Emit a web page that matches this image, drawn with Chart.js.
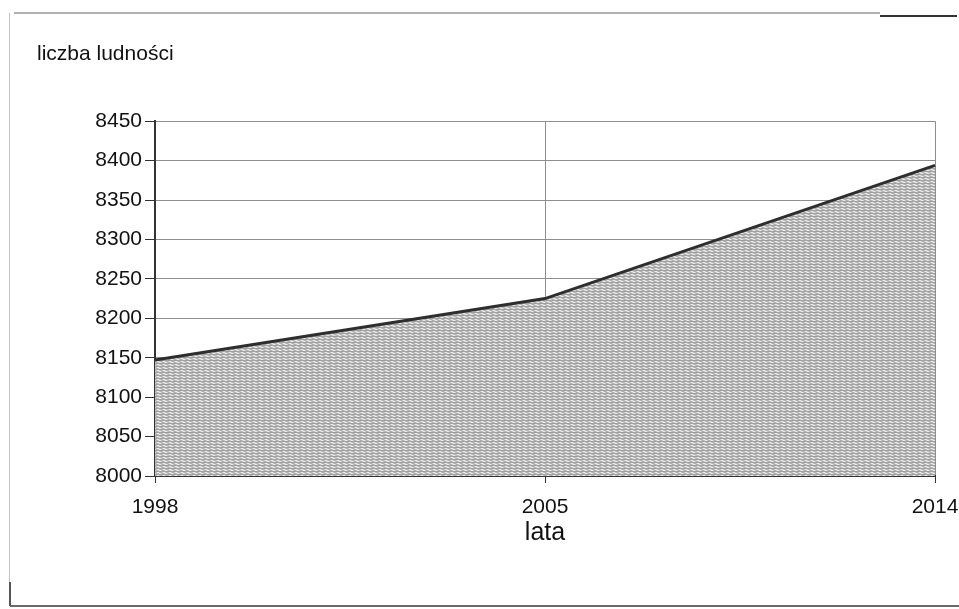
<!DOCTYPE html>
<html>
<head>
<meta charset="utf-8">
<script src="https://cdn.jsdelivr.net/npm/chart.js@4"></script>
<style>
  html, body { margin: 0; padding: 0; background: #fff; }
  #wrap { position: relative; width: 959px; height: 609px; overflow: hidden; }
  #wrap canvas { position: absolute; left: 0; top: 0; }
  .ln { position: absolute; }
</style>
</head>
<body>
<div id="wrap">
  <div class="ln" style="left:14px;top:12px;width:866px;height:2px;background:#b0b0b0"></div>
  <div class="ln" style="left:880px;top:15px;width:77px;height:2px;background:#333"></div>
  <div class="ln" style="left:9px;top:13px;width:1px;height:592px;background:#c4c4c4"></div>
  <div class="ln" style="left:9px;top:582px;width:2px;height:24px;background:#555"></div>
  <div class="ln" style="left:10px;top:605px;width:949px;height:2px;background:#6a6a6a"></div>
  <canvas id="chart" width="959" height="609"></canvas>
</div>
<script>
// Liczba ludności w latach 1998–2014 (wykres powierzchniowy)
const years = ['1998', '2005', '2014'];
const population = [8147, 8225, 8394];
const yMin = 8000, yMax = 8450, yStep = 50;

function texture() {
  const c = document.createElement('canvas');
  c.width = 6; c.height = 3;
  const g = c.getContext('2d');
  const rows = [
    ['#9e9e9e', '#9e9e9e', '#a6a6a6', '#9e9e9e', '#9e9e9e', '#a6a6a6'],
    ['#c6c6c6', '#ececec', '#ececec', '#c6c6c6', '#b2b2b2', '#b2b2b2'],
    ['#b2b2b2', '#b2b2b2', '#c6c6c6', '#ececec', '#ececec', '#c6c6c6']
  ];
  rows.forEach((r, y) => r.forEach((col, x) => { g.fillStyle = col; g.fillRect(x, y, 1, 1); }));
  return g.createPattern(c, 'repeat');
}

const font = 'Liberation Sans, Arial, sans-serif';
const dark = '#333', grid = '#8e8e8e';

new Chart(document.getElementById('chart'), {
  type: 'line',
  data: {
    labels: years,
    datasets: [{
      data: population,
      fill: 'origin',
      backgroundColor: texture(),
      borderColor: '#2e2e2e',
      borderWidth: 3,
      pointRadius: 0,
      tension: 0
    }]
  },
  options: {
    responsive: false, animation: false,
    layout: { padding: { left: 37, right: 24, top: 0, bottom: 63 } },
    plugins: {
      legend: { display: false },
      tooltip: { enabled: false },
      title: {
        display: true, text: 'liczba ludności', align: 'start', color: '#111',
        font: { family: font, size: 21, weight: 'normal', lineHeight: 1.2 },
        padding: { top: 42, bottom: 54 }
      }
    },
    scales: {
      x: {
        offset: false,
        // label overhang is covered by layout padding, keep the plot edge at the right
        afterFit: (s) => { s.paddingLeft = 0; s.paddingRight = 0; },
        grid: { color: grid, lineWidth: 1, tickLength: 7, tickColor: dark },
        border: { color: dark, width: 2 },
        ticks: { color: '#111', padding: 14, maxRotation: 0, font: { family: font, size: 21, lineHeight: 1 } },
        title: { display: true, text: 'lata', color: '#111', font: { family: font, size: 25, lineHeight: 1 }, padding: { top: -11, bottom: 0 } }
      },
      y: {
        min: yMin, max: yMax,
        afterFit: (s) => { s.width = 118; },
        grid: { color: grid, lineWidth: 1, tickLength: 10, tickColor: dark },
        border: { color: dark, width: 2 },
        ticks: { stepSize: yStep, color: '#111', padding: 3, font: { family: font, size: 21, lineHeight: 1 }, callback: (v) => String(v) }
      }
    }
  }
});
</script>
</body>
</html>
